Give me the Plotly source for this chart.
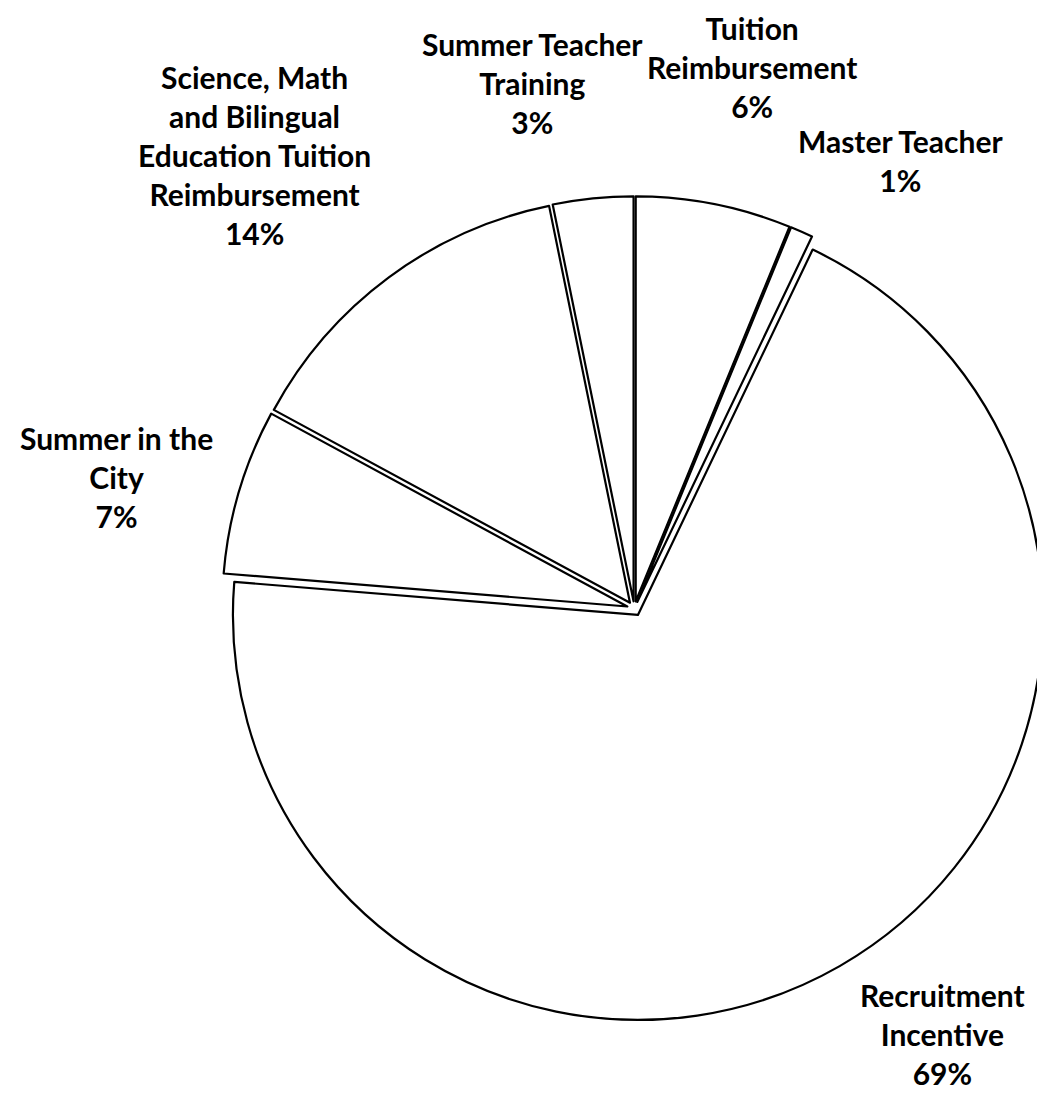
import plotly.graph_objects as go

# ---- data ----
categories = [
    "Tuition<br>Reimbursement",
    "Master Teacher",
    "Recruitment<br>Incentive",
    "Summer in the<br>City",
    "Science, Math<br>and Bilingual<br>Education Tuition<br>Reimbursement",
    "Summer Teacher<br>Training",
]
shares = [6.2, 0.9, 69.2, 6.6, 13.9, 3.2]

# label centre positions in pixels (layout only)
label_px = [(752, 67), (900, 160), (942, 1034), (116, 477), (254, 155), (532, 83)]

W, H = 1050, 1095
cx, cy, r, pull = 634.3, 608.6, 405, 0.018
half = r * (1 + pull)

fig = go.Figure(go.Pie(
    labels=[c.replace("<br>", " ") for c in categories],
    values=shares,
    sort=False,
    direction="clockwise",
    rotation=0,
    pull=[pull] * len(shares),
    textinfo="none",
    hoverinfo="label+percent",
    marker=dict(colors=["white"] * len(shares), line=dict(color="black", width=2.2)),
    domain=dict(x=[(cx - half) / W, (cx + half) / W],
                y=[1 - (cy + half) / H, 1 - (cy - half) / H]),
    showlegend=False,
))

total = sum(shares)
for cat, v, (px, py) in zip(categories, shares, label_px):
    fig.add_annotation(
        text=f"<b>{cat}<br>{round(v / total * 100)}%</b>",
        x=px / W, y=1 - py / H, xref="paper", yref="paper",
        xanchor="center", yanchor="middle", align="center",
        showarrow=False,
        font=dict(family="Lato", size=30, color="black"),
    )

fig.update_layout(
    width=W, height=H,
    margin=dict(l=0, r=0, t=0, b=0),
    paper_bgcolor="white", plot_bgcolor="white",
)

fig.write_html("out.html",
               config={"displayModeBar": False},
               post_script="document.body.style.margin='0';document.body.style.overflow='hidden';document.documentElement.style.overflow='hidden';")
